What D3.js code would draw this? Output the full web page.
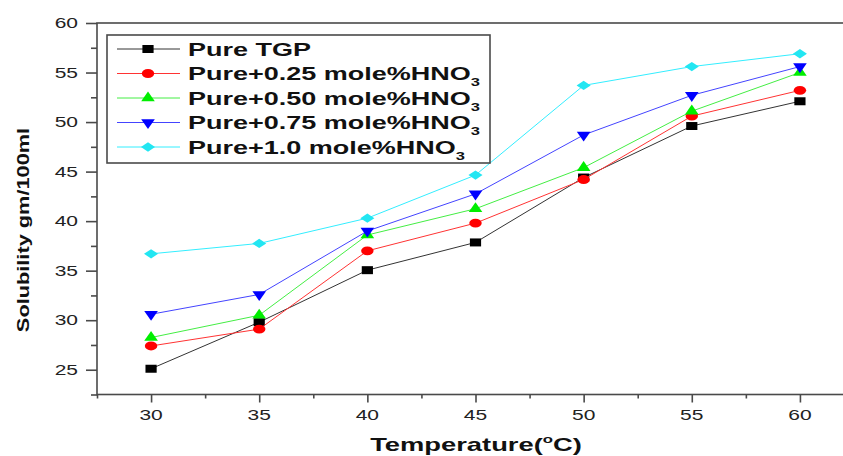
<!DOCTYPE html>
<html>
<head>
<meta charset="utf-8">
<script src="https://cdn.jsdelivr.net/npm/d3@7"></script>
<style>
  body { margin: 0; background: #fff; }
  svg { display: block; font-family: "Liberation Sans", Arial, sans-serif; }
</style>
</head>
<body>
<svg id="chart" width="843" height="456"></svg>
<script>
/*************************Data********************* */
const temps = [30, 35, 40, 45, 50, 55, 60];
const pureTGP = [25.1, 29.8, 35.05, 37.85, 44.4, 49.6, 52.1];
const hno3_025 = [27.4, 29.1, 37.0, 39.8, 44.2, 50.6, 53.2];
const hno3_050 = [28.25, 30.5, 38.6, 41.25, 45.4, 51.1, 55.0];
const hno3_075 = [30.6, 32.6, 39.0, 42.75, 48.7, 52.7, 55.6];
const hno3_100 = [36.7, 37.75, 40.3, 44.65, 53.7, 55.6, 56.9];
const seriesNames = ["Pure TGP", "Pure+0.25 mole%HNO", "Pure+0.50 mole%HNO", "Pure+0.75 mole%HNO", "Pure+1.0 mole%HNO"];
const seriesSubs = ["", "3", "3", "3", "3"];
const xTicks = [30, 35, 40, 45, 50, 55, 60];
const yTicks = [25, 30, 35, 40, 45, 50, 55, 60];

const colors = ["#000000", "#ff0000", "#00ee00", "#0000ff", "#22e6f2"];
const lineColors = ["#333333", "#ff3333", "#44ee44", "#4444ff", "#33eeff"];
const shapes = ["square", "circle", "up", "down", "diamond"];
const allSeries = [pureTGP, hno3_025, hno3_050, hno3_075, hno3_100];

/*************************Scales********************* */
const svg = d3.select("svg#chart");
const SX = 1.5; // the original picture is stretched sideways
const plotLeft = 97, plotRight = 854, plotTop = 23, plotBottom = 394.5;

const scaleX = d3.scaleLinear().domain([27.5, 62.5]).range([plotLeft, plotRight]);
const scaleY = d3.scaleLinear().domain([22.5, 60]).range([plotBottom, plotTop]);

// marker shapes, squashed sideways like the picture
const markerPath = (shape) => {
  if (shape === "square") return d3.symbol(d3.symbolSquare, 64)();
  if (shape === "circle") return d3.symbol(d3.symbolCircle, 62)();
  if (shape === "up" || shape === "down") return d3.symbol(d3.symbolTriangle, 56)();
  return d3.symbol(d3.symbolSquare, 44)();
};
const markerTransform = (shape, x, y) => {
  if (shape === "down") return `translate(${x},${y}) scale(1.2,1) rotate(180)`;
  if (shape === "up") return `translate(${x},${y}) scale(1.2,1)`;
  if (shape === "diamond") return `translate(${x},${y}) scale(1.5,1) rotate(45)`;
  return `translate(${x},${y}) scale(1.4,1)`;
};

/*************************Axes********************* */
const axisColor = "#4a4a4a";
// frame (right edge falls outside the picture)
svg.append("rect")
  .attr("x", plotLeft).attr("y", plotTop)
  .attr("width", plotRight - plotLeft).attr("height", plotBottom - plotTop)
  .attr("fill", "none").attr("stroke", axisColor).attr("stroke-width", 1.6);

const xMinor = d3.range(27.5, 62.6, 2.5).filter((v) => !xTicks.includes(v));
const yMinor = d3.range(22.5, 60, 2.5).filter((v) => !yTicks.includes(v));

const xAxis = d3.axisBottom(scaleX).tickValues(xTicks).tickSize(8).tickSizeOuter(0).tickFormat(() => "");
const yAxis = d3.axisLeft(scaleY).tickValues(yTicks).tickSize(11).tickSizeOuter(0).tickFormat(() => "");
const xAxisMinor = d3.axisBottom(scaleX).tickValues(xMinor).tickSize(4).tickSizeOuter(0).tickFormat(() => "");
const yAxisMinor = d3.axisLeft(scaleY).tickValues(yMinor).tickSize(6).tickSizeOuter(0).tickFormat(() => "");

svg.append("g").attr("class", "x-axis").attr("transform", `translate(0,${plotBottom})`).call(xAxis);
svg.append("g").attr("class", "x-axis").attr("transform", `translate(0,${plotBottom})`).call(xAxisMinor);
svg.append("g").attr("class", "y-axis").attr("transform", `translate(${plotLeft},0)`).call(yAxis);
svg.append("g").attr("class", "y-axis").attr("transform", `translate(${plotLeft},0)`).call(yAxisMinor);

//Styling domains n ticks
svg.selectAll(".domain").attr("opacity", 0);
svg.selectAll(".tick line").attr("stroke", axisColor).attr("stroke-width", 1.6);

// tick labels
svg.append("g").selectAll("text")
  .data(xTicks)
  .join("text")
  .text((d) => d)
  .attr("transform", (d) => `translate(${scaleX(d)},420) scale(${SX},1)`)
  .attr("text-anchor", "middle")
  .attr("font-size", 14)
  .attr("fill", "#222");

svg.append("g").selectAll("text")
  .data(yTicks)
  .join("text")
  .text((d) => d)
  .attr("transform", (d) => `translate(78,${scaleY(d) + 5}) scale(${SX},1)`)
  .attr("text-anchor", "end")
  .attr("font-size", 14)
  .attr("fill", "#222");

/*************************Axis titles********************* */
svg.append("text")
  .text("Solubility gm/100ml")
  .attr("transform", "translate(29,230) rotate(-90) scale(1.28,1)")
  .attr("text-anchor", "middle")
  .attr("font-size", 17)
  .style("font-weight", "bold")
  .attr("fill", "#111");

const xTitle = svg.append("text")
  .attr("transform", `translate(476,451) scale(1.52,1)`)
  .attr("text-anchor", "middle")
  .attr("font-size", 18)
  .style("font-weight", "bold")
  .attr("fill", "#111");
xTitle.append("tspan").text("Temperature(");
xTitle.append("tspan").text("o").attr("font-size", 11).attr("dy", -8);
xTitle.append("tspan").text("C)").attr("dy", 8);

/*************************Lines and markers********************* */
const line = d3.line()
  .x((d, i) => scaleX(temps[i]))
  .y((d) => scaleY(d));

const plot = svg.append("g").attr("class", "draw");
allSeries.forEach((values, k) => {
  const g = plot.append("g");
  g.append("path")
    .datum(values)
    .attr("d", line)
    .attr("fill", "none")
    .attr("stroke", lineColors[k])
    .attr("stroke-width", 1);
  g.selectAll("path.marker")
    .data(values)
    .join("path")
    .attr("class", "marker")
    .attr("d", markerPath(shapes[k]))
    .attr("transform", (d, i) => markerTransform(shapes[k], scaleX(temps[i]), scaleY(d)))
    .attr("fill", colors[k]);
});

/*************************Legend********************* */
const legend = svg.append("g").attr("class", "legend");
legend.append("rect")
  .attr("x", 107).attr("y", 35)
  .attr("width", 383).attr("height", 128)
  .attr("fill", "#fff").attr("stroke", axisColor).attr("stroke-width", 1.6);

seriesNames.forEach((name, k) => {
  const y = 49 + k * 24.5;
  legend.append("line")
    .attr("x1", 117).attr("x2", 180)
    .attr("y1", y).attr("y2", y)
    .attr("stroke", lineColors[k]).attr("stroke-width", 1);
  legend.append("path")
    .attr("d", markerPath(shapes[k]))
    .attr("transform", markerTransform(shapes[k], 148, y))
    .attr("fill", colors[k]);
  const t = legend.append("text")
    .attr("transform", `translate(188,${y + 6.5}) scale(${SX},1)`)
    .attr("font-size", 18)
    .style("font-weight", "bold")
    .attr("fill", "#111");
  t.append("tspan").text(name);
  if (seriesSubs[k]) t.append("tspan").text(seriesSubs[k]).attr("font-size", 11).attr("dy", 6);
});
</script>
</body>
</html>
